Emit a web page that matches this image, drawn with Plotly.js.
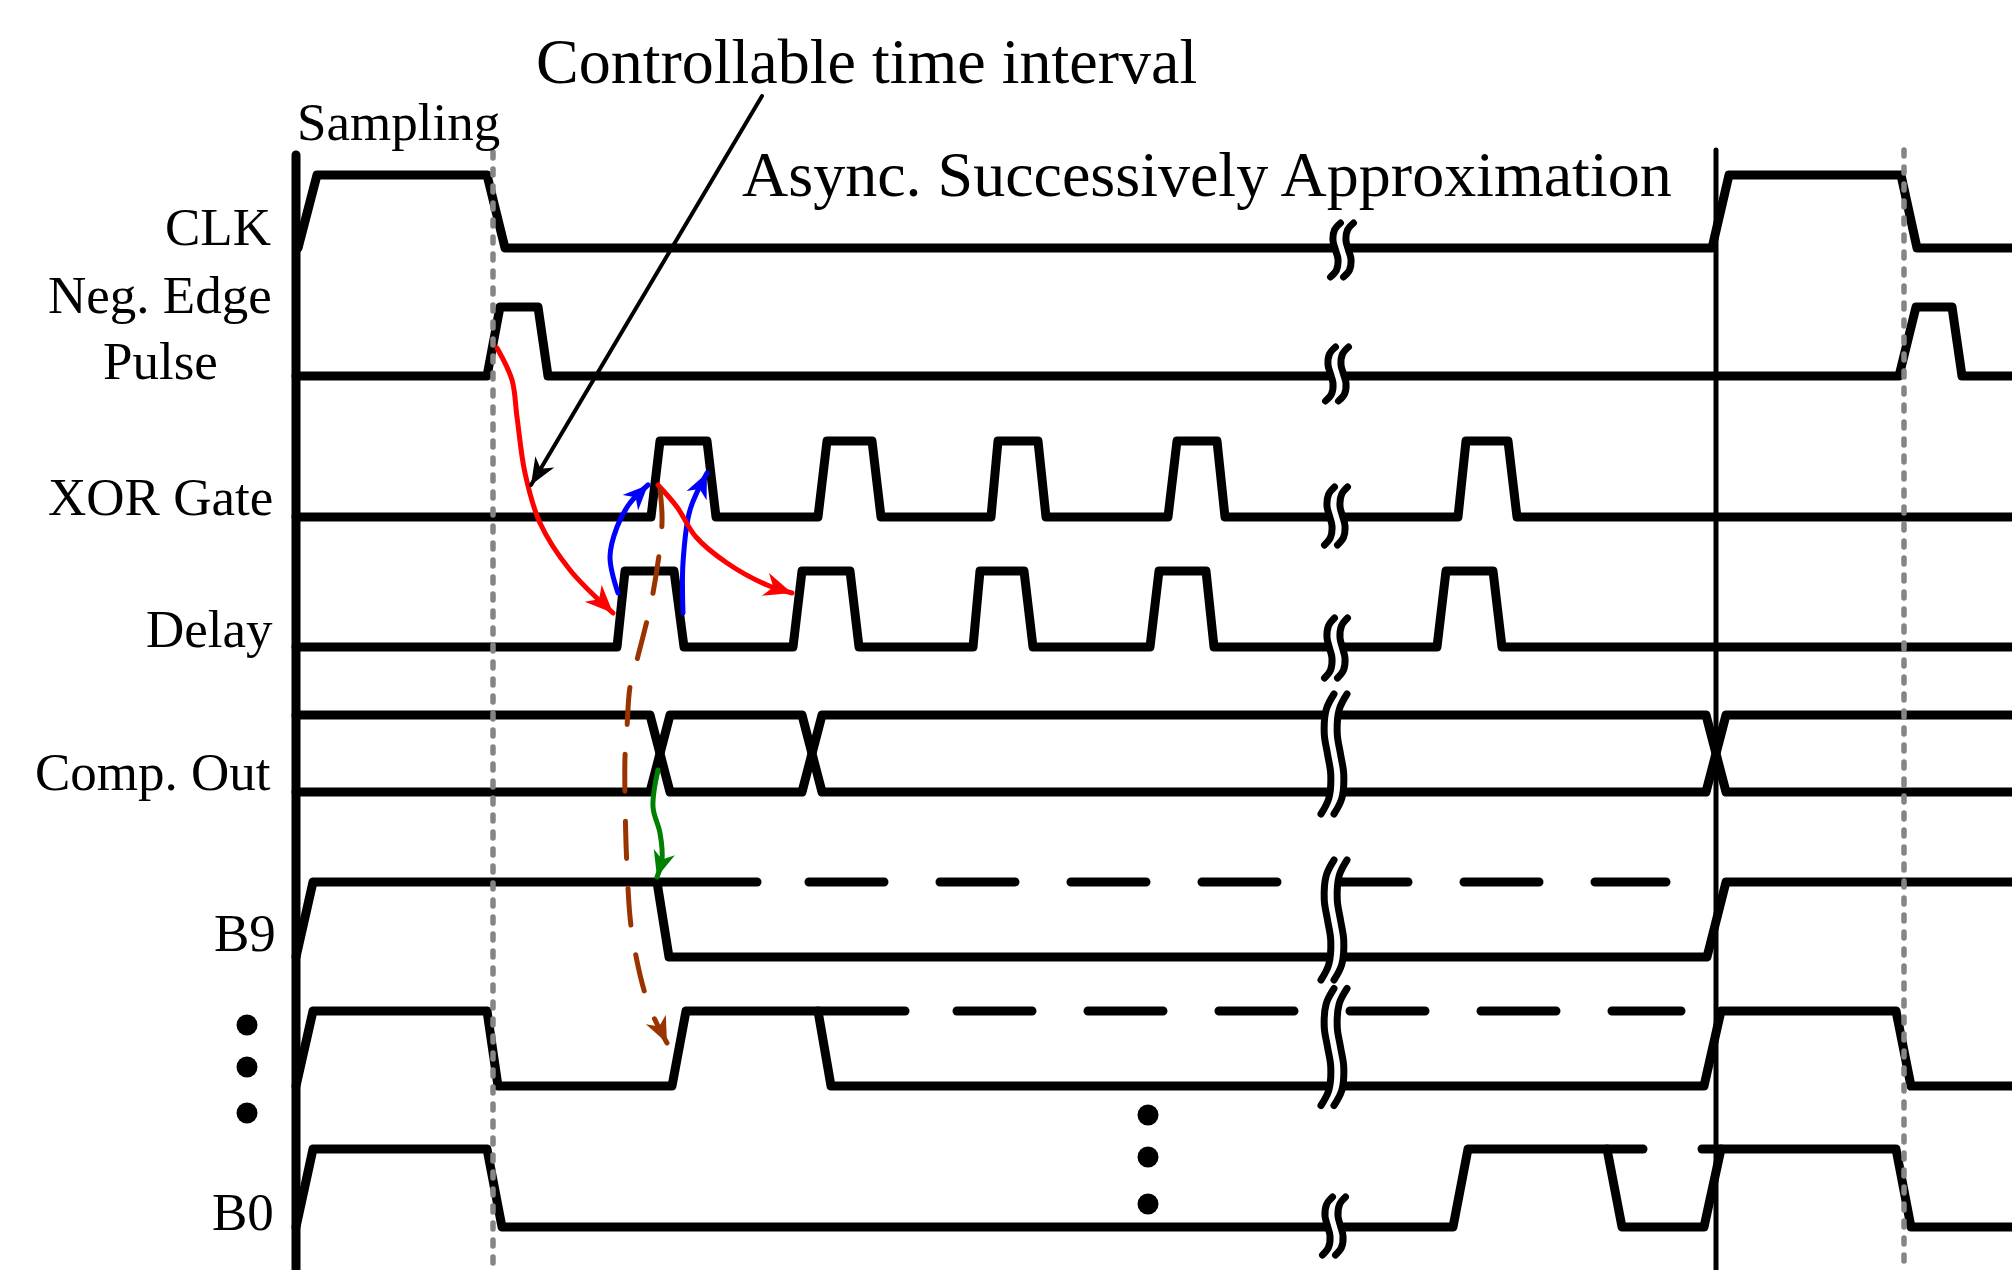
<!DOCTYPE html>
<html><head><meta charset="utf-8">
<script src="https://cdn.plot.ly/plotly-3.0.1.min.js"></script>
<style>
html,body{margin:0;padding:0;background:#fff;}
#chart{width:2012px;height:1270px;}
.js-line{stroke-linecap:round !important;stroke-linejoin:round !important;}
</style></head><body><div id="chart"></div>
<script>
// ---------------- DATA (time in diagram units, logic levels 0/1) ----------------
const labels = ['CLK', 'Neg. Edge', 'Pulse', 'XOR Gate', 'Delay', 'Comp. Out', 'B9', 'B0'];
const topTexts = ['Sampling', 'Controllable time interval', 'Async. Successively Approximation'];

const clkT = [298, 317, 487, 505, 1712, 1729, 1901, 1917, 2012];
const clkV = [0, 1, 1, 0, 0, 1, 1, 0, 0];

const negT = [296, 487, 500, 538, 548, 1899, 1916, 1952, 1962, 2012];
const negV = [0, 0, 1, 1, 0, 0, 1, 1, 0, 0];

const xorT = [296, 651, 660, 707, 716, 818, 827, 872, 881, 991, 998, 1038, 1046, 1168, 1177, 1217, 1225, 1458, 1466, 1508, 1517, 2012];
const xorV = [0, 0, 1, 1, 0, 0, 1, 1, 0, 0, 1, 1, 0, 0, 1, 1, 0, 0, 1, 1, 0, 0];

const delayT = [296, 617, 625, 674, 684, 793, 802, 850, 859, 973, 980, 1024, 1033, 1150, 1159, 1206, 1214, 1437, 1446, 1493, 1502, 2012];
const delayV = [0, 0, 1, 1, 0, 0, 1, 1, 0, 0, 1, 1, 0, 0, 1, 1, 0, 0, 1, 1, 0, 0];

const compCross = [660, 812, 1716];

const b9T = [296, 313, 657, 669, 1707, 1726, 2012];
const b9V = [0, 1, 1, 0, 0, 1, 1];
const b9HoldSolid = [657, 757];
const b9HoldDash = [809, 1666];

const bxT = [296, 313, 487, 498, 672, 686, 818, 831, 1704, 1721, 1896, 1911, 2012];
const bxV = [0, 1, 1, 0, 0, 1, 1, 0, 0, 1, 1, 0, 0];
const bxHoldSolid = [818, 905];
const bxHoldDash = [957, 1681];

const b0T = [296, 313, 487, 502, 1453, 1468, 1607, 1622, 1704, 1721, 1896, 1911, 2012];
const b0V = [0, 1, 1, 0, 0, 1, 1, 0, 0, 1, 1, 0, 0];
const b0HoldA = [1607, 1643];
const b0HoldB = [1702, 1721];

// causal arrows (way points)
const redAx = [497, 512, 517, 525, 540, 570, 613];
const redAy = [348, 380, 417, 473, 523, 570, 613];
const blueAx = [618, 610, 617, 630, 648];
const blueAy = [593, 557, 527, 503, 485];
const blueBx = [683, 683, 690, 707];
const blueBy = [613, 563, 510, 473];
const redBx = [658, 677, 696, 727, 767, 792];
const redBy = [485, 507, 537, 563, 585, 593];
const brownX = [660, 662, 653, 637, 630, 627, 625, 625, 627, 632, 648, 667];
const brownY = [490, 523, 593, 660, 687, 727, 757, 797, 867, 933, 1003, 1043];
const greenX = [658, 653, 660, 662, 657];
const greenY = [770, 807, 833, 860, 877];
const blackX = [762, 531];
const blackY = [96, 485];

// ---------------- LAYOUT GEOMETRY ----------------
const rows = {
  clk:   {lo: 248, hi: 175},
  neg:   {lo: 376, hi: 307},
  xor:   {lo: 517, hi: 441},
  delay: {lo: 647, hi: 571},
  comp:  {lo: 792, hi: 715},
  b9:    {lo: 957, hi: 882},
  bx:    {lo: 1086, hi: 1011},
  b0:    {lo: 1227, hi: 1149}
};
const W = 9;
const traces = [];
function line(x, y, opt) {
  traces.push({type: 'scatter', mode: 'lines', x: x, y: y, hoverinfo: 'skip',
    line: Object.assign({color: '#000', width: W}, opt || {})});
}
function wave(T, V, r) {
  line(T, V.map(v => v ? r.hi : r.lo));
}

// axis and marker lines
line([296, 296], [155, 1270], {width: 9});
line([1716, 1716], [150, 1270], {width: 5});

wave(clkT, clkV, rows.clk);
wave(negT, negV, rows.neg);
wave(xorT, xorV, rows.xor);
wave(delayT, delayV, rows.delay);

// comparator bus
(function () {
  const r = rows.comp, hw = 10;
  [true, false].forEach(startTop => {
    let lvl = startTop;
    const x = [296], y = [lvl ? r.hi : r.lo];
    compCross.forEach(c => {
      x.push(c - hw, c + hw);
      y.push(lvl ? r.hi : r.lo, lvl ? r.lo : r.hi);
      lvl = !lvl;
    });
    x.push(2012); y.push(lvl ? r.hi : r.lo);
    line(x, y);
  });
})();

wave(b9T, b9V, rows.b9);
line(b9HoldSolid, [rows.b9.hi, rows.b9.hi]);
line(b9HoldDash, [rows.b9.hi, rows.b9.hi], {dash: '75px,56px'});
wave(bxT, bxV, rows.bx);
line(bxHoldSolid, [rows.bx.hi, rows.bx.hi]);
line(bxHoldDash, [rows.bx.hi, rows.bx.hi], {dash: '75px,56px'});
wave(b0T, b0V, rows.b0);
line(b0HoldA, [rows.b0.hi, rows.b0.hi]);
line(b0HoldB, [rows.b0.hi, rows.b0.hi]);

// gray dotted sampling markers
line([493, 493], [152, 1270], {color: '#858585', width: 5.5, dash: '6px,11px'});
line([1904, 1904], [150, 1270], {color: '#858585', width: 5.5, dash: '6px,11px'});

// time-break symbols
const breaks = [
  {cx: 1342, yc: 250, h: 54}, {cx: 1337, yc: 374, h: 54},
  {cx: 1336, yc: 516, h: 58}, {cx: 1336, yc: 648, h: 60},
  {cx: 1334, yc: 754, h: 120}, {cx: 1334, yc: 920, h: 120},
  {cx: 1334, yc: 1047, h: 117}, {cx: 1334, yc: 1226, h: 58}
];
const bty = [0, 0.13, 0.33, 0.5, 0.67, 0.87, 1];
const bdx = [5, -1, -2.5, 0, 2.5, 1, -5];
breaks.forEach(b => {
  const k = b.h > 90 ? 1.3 : 1;
  const ys = bty.map(t => b.yc - b.h / 2 + t * b.h);
  const mk = off => bdx.map(d => b.cx + off + d * k);
  line(mk(0), ys, {color: '#fff', width: 14, shape: 'spline'});
  line(mk(-6.5), ys, {width: 7, shape: 'spline'});
  line(mk(6.5), ys, {width: 7, shape: 'spline'});
});

// arrows: curve + notched (stealth) head along the last segment
function arrow(x, y, color, width, L, w, extra) {
  traces.push({type: 'scatter', mode: 'lines', x: x, y: y, hoverinfo: 'skip',
    line: Object.assign({color: color, width: width, shape: 'spline'}, extra || {})});
  const n = x.length, tx = x[n - 1], ty = y[n - 1];
  let dx = tx - x[n - 2], dy = ty - y[n - 2];
  const m = Math.hypot(dx, dy); dx /= m; dy /= m;
  const nx = -dy, ny = dx;
  traces.push({type: 'scatter', mode: 'lines', fill: 'toself', fillcolor: color, hoverinfo: 'skip',
    line: {width: 0, color: color},
    x: [tx, tx - L * dx + w * nx, tx - 0.7 * L * dx, tx - L * dx - w * nx, tx],
    y: [ty, ty - L * dy + w * ny, ty - 0.7 * L * dy, ty - L * dy - w * ny, ty]});
}
arrow(redAx, redAy, '#ff0000', 5, 28, 12);
arrow(blueAx, blueAy, '#0000ff', 5, 25, 11);
arrow(blueBx, blueBy, '#0000ff', 5, 25, 11);
arrow(redBx, redBy, '#ff0000', 5, 28, 12);
arrow(brownX, brownY, '#993300', 5, 26, 11, {dash: '37px,30px'});
arrow(greenX, greenY, '#008000', 5, 26, 11);
arrow(blackX, blackY, '#000000', 4, 27, 11);

// ellipsis dots
traces.push({type: 'scatter', mode: 'markers', x: [247, 247, 247], y: [1025, 1067, 1113], hoverinfo: 'skip',
  marker: {size: 21, color: '#000'}});
traces.push({type: 'scatter', mode: 'markers', x: [1148, 1148, 1148], y: [1115, 1157, 1204], hoverinfo: 'skip',
  marker: {size: 21, color: '#000'}});

// ---------------- TEXT ----------------
const serif = 'Liberation Serif, Times New Roman, serif';
function txt(t, x, y, size, xa) {
  return {text: t, x: x, y: y, xref: 'x', yref: 'y', showarrow: false, xanchor: xa || 'center', yanchor: 'middle',
    font: {family: serif, size: size, color: '#000'}};
}
const annotations = [
  txt(labels[0], 273, 227, 53, 'right'),
  txt(labels[1], 160, 295, 53, 'center'),
  txt(labels[2], 160, 361, 53, 'center'),
  txt(labels[3], 275, 497, 53, 'right'),
  txt(labels[4], 275, 629, 53, 'right'),
  txt(labels[5], 273, 772, 53, 'right'),
  txt(labels[6], 278, 933, 53, 'right'),
  txt(labels[7], 276, 1212, 53, 'right'),
  txt(topTexts[0], 398, 122, 53, 'center'),
  txt(topTexts[1], 866, 61, 64, 'center'),
  txt(topTexts[2], 1207, 174, 64, 'center')
];

const layout = {
  width: 2012, height: 1270,
  margin: {l: 0, r: 0, t: 0, b: 0, pad: 0},
  paper_bgcolor: '#fff', plot_bgcolor: '#fff',
  showlegend: false,
  xaxis: {range: [0, 2012], visible: false, fixedrange: true},
  yaxis: {range: [1270, 0], visible: false, fixedrange: true},
  annotations: annotations
};
Plotly.newPlot('chart', traces, layout, {displayModeBar: false, staticPlot: true});
</script></body></html>
